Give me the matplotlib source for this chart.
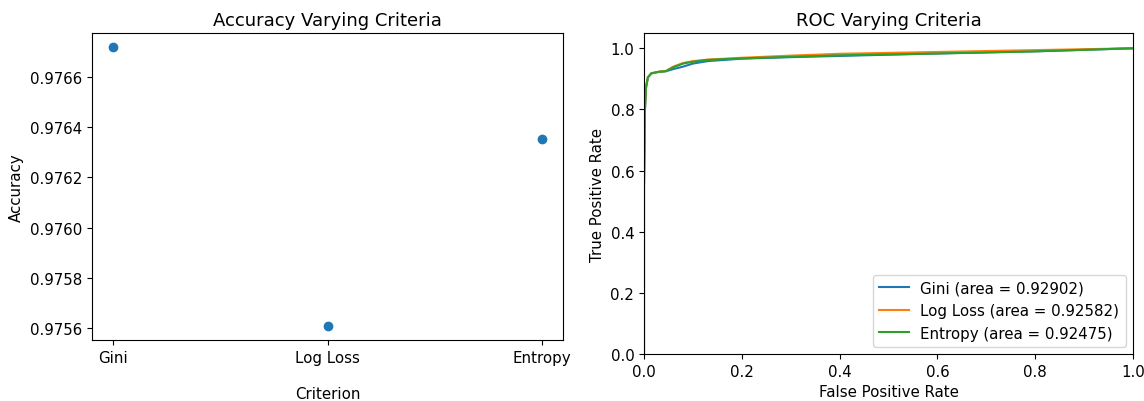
#!/usr/bin/env python3
"""Accuracy and ROC curves for varying decision tree criteria."""

import matplotlib
matplotlib.use('Agg')
import matplotlib.pyplot as plt

plt.rcParams['font.size'] = 10.8
plt.rcParams['axes.titlesize'] = 13

# Accuracy per criterion
criteria = ['Gini', 'Log Loss', 'Entropy']
accuracy = [0.97672, 0.975608, 0.976352]

# ROC curves
roc_labels = ['Gini (area = 0.92902)', 'Log Loss (area = 0.92582)',
              'Entropy (area = 0.92475)']

fpr_gini = [0.0, 0.0, 0.002, 0.004, 0.008, 0.015, 0.03, 0.045, 0.06, 0.08,
            0.1, 0.13, 0.2, 0.3, 0.4, 0.5, 0.6, 0.7, 0.8, 0.9, 1.0]
tpr_gini = [0.0, 0.55, 0.8, 0.87, 0.905, 0.918, 0.923, 0.925, 0.932, 0.94,
            0.95, 0.958, 0.966, 0.971, 0.975, 0.979, 0.983, 0.987, 0.99, 0.995, 1.0]

fpr_log = [0.0, 0.0, 0.002, 0.004, 0.008, 0.015, 0.03, 0.045, 0.06, 0.08,
           0.1, 0.13, 0.2, 0.3, 0.4, 0.5, 0.6, 0.7, 0.8, 0.9, 1.0]
tpr_log = [0.0, 0.55, 0.81, 0.875, 0.905, 0.918, 0.923, 0.926, 0.94, 0.952,
           0.958, 0.963, 0.969, 0.976, 0.982, 0.985, 0.988, 0.991, 0.994, 0.997, 1.0]

fpr_ent = [0.0, 0.0, 0.002, 0.004, 0.008, 0.015, 0.03, 0.045, 0.06, 0.08,
           0.1, 0.13, 0.2, 0.3, 0.4, 0.5, 0.6, 0.7, 0.8, 0.9, 1.0]
tpr_ent = [0.0, 0.55, 0.8, 0.87, 0.905, 0.918, 0.923, 0.925, 0.938, 0.95,
           0.956, 0.962, 0.967, 0.972, 0.977, 0.98, 0.983, 0.986, 0.99, 0.995, 1.0]

fig = plt.figure(figsize=(11.44, 4.02), dpi=100)

# --- Left panel: accuracy ---
ax1 = fig.add_axes([92 / 1144, 1 - 341 / 402, 471 / 1144, 307 / 402])
ax1.scatter(criteria, accuracy)
ax1.set_title('Accuracy Varying Criteria')
ax1.set_xlabel('Criterion', labelpad=15)
ax1.set_ylabel('Accuracy')
ax1.set_yticks([0.9756, 0.9758, 0.9760, 0.9762, 0.9764, 0.9766])

# --- Right panel: ROC ---
ax2 = fig.add_axes([644 / 1144, 1 - 355 / 402, 489 / 1144, 321 / 402])
for fpr, tpr, label in zip([fpr_gini, fpr_log, fpr_ent],
                           [tpr_gini, tpr_log, tpr_ent], roc_labels):
    ax2.plot(fpr, tpr, label=label)
ax2.set_xlim(0.0, 1.0)
ax2.set_ylim(0.0, 1.05)
ax2.set_xlabel('False Positive Rate')
ax2.set_ylabel('True Positive Rate')
ax2.set_title('ROC Varying Criteria')
ax2.legend(loc='lower right')

fig.savefig('out.png', dpi=100, facecolor='white')
